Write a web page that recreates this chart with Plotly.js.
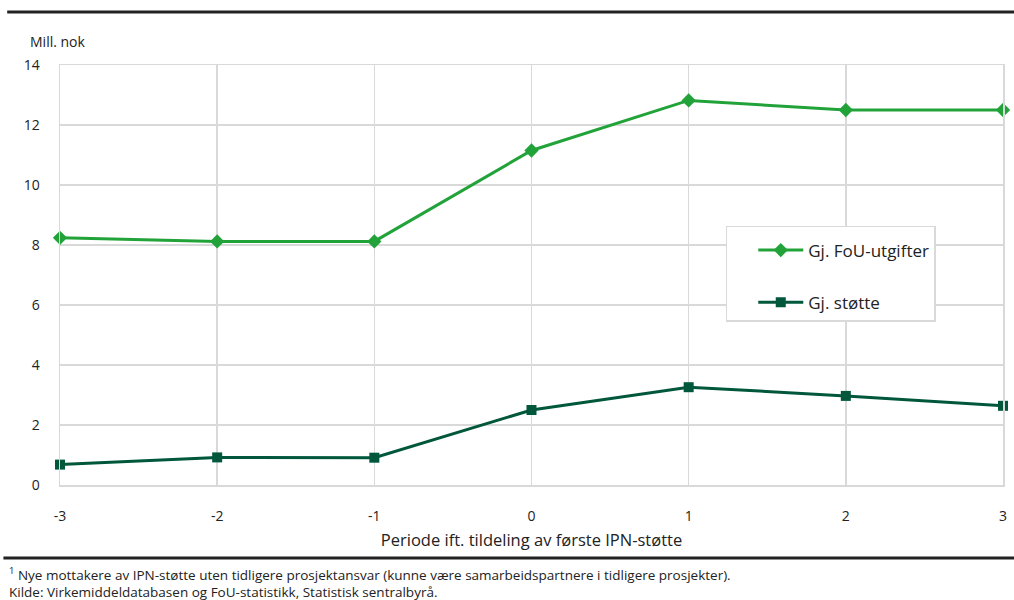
<!DOCTYPE html>
<html>
<head>
<meta charset="utf-8">
<script src="https://cdn.plot.ly/plotly-3.0.1.min.js"></script>
<style>html,body{margin:0;padding:0;background:#fff;}#chart{width:1014px;height:600px;}</style>
</head>
<body>
<div id="chart"></div>
<script>
const periods = [-3, -2, -1, 0, 1, 2, 3];
const fouUtgifter = [8.24, 8.12, 8.12, 11.15, 12.82, 12.5, 12.5];
const stotte = [0.68, 0.92, 0.91, 2.5, 3.26, 2.97, 2.64];
const seriesNames = ['Gj. FoU-utgifter', 'Gj. støtte'];
const yTicks = [0, 2, 4, 6, 8, 10, 12, 14];

const font = 'Open Sans, Noto Sans, sans-serif';

const traces = [
  {
    x: periods, y: fouUtgifter, name: seriesNames[0], type: 'scatter', mode: 'lines+markers',
    line: {color: '#22a33a', width: 3}, marker: {symbol: 'diamond', size: 11, color: '#22a33a'},
    legendgroup: 'a', cliponaxis: false
  },
  {
    x: periods, y: stotte, name: seriesNames[1], type: 'scatter', mode: 'lines+markers',
    line: {color: '#00573b', width: 3}, marker: {symbol: 'square', size: 10, color: '#00573b'},
    legendgroup: 'b', cliponaxis: false
  }
];

const layout = {
  width: 1014, height: 600,
  margin: {l: 60, r: 11, t: 65, b: 115},
  paper_bgcolor: '#fff', plot_bgcolor: '#fff',
  font: {family: font, size: 14, color: '#222'},
  showlegend: true,
  legend: {
    x: 0.706, y: 0.617, xanchor: 'left', yanchor: 'top',
    bordercolor: '#d9d9d9', borderwidth: 1.5, bgcolor: '#fff',
    font: {family: font, size: 17, color: '#222'},
    tracegroupgap: 27, traceorder: 'grouped',
    itemwidth: 45, indentation: 26, entrywidth: 210,
    title: {text: '&nbsp;', font: {size: 4}}
  },
  xaxis: {
    range: [-3, 3], tickvals: periods, ticktext: periods.map(String),
    showgrid: true, gridcolor: '#d9d9d9', gridwidth: 1.5,
    zeroline: false, showline: true, mirror: true, linecolor: '#d9d9d9', linewidth: 1.5,
    ticks: '', ticklabelstandoff: 18,
    tickfont: {family: font, size: 14, color: '#222'},
    title: {text: 'Periode ift. tildeling av første IPN-støtte', standoff: 10, font: {family: font, size: 16.5, color: '#222'}}
  },
  yaxis: {
    range: [0, 14], tickvals: yTicks,
    showgrid: true, gridcolor: '#d9d9d9', gridwidth: 1.5,
    zeroline: false, showline: true, mirror: true, linecolor: '#d9d9d9', linewidth: 1.5,
    ticks: '', ticklabelstandoff: 16,
    tickfont: {family: font, size: 14, color: '#222'}
  },
  shapes: [
    {type: 'line', xref: 'paper', yref: 'paper', x0: -0.056, x1: 1.012, y0: 1.126, y1: 1.126, line: {color: '#222', width: 3}},
    {type: 'line', xref: 'paper', yref: 'paper', x0: -0.06, x1: 1.012, y0: -0.174, y1: -0.174, line: {color: '#222', width: 3}}
  ],
  annotations: [
    {xref: 'paper', yref: 'paper', x: -0.034, y: 1.055, xanchor: 'left', yanchor: 'middle', showarrow: false,
     text: 'Mill. nok', font: {family: font, size: 14, color: '#222'}},
    {xref: 'paper', yref: 'paper', x: -0.056, y: -0.183, xanchor: 'left', yanchor: 'top', align: 'left', showarrow: false,
     text: '<sup>1</sup> Nye mottakere av IPN-støtte uten tidligere prosjektansvar (kunne være samarbeidspartnere i tidligere prosjekter).<br>Kilde: Virkemiddeldatabasen og FoU-statistikk, Statistisk sentralbyrå.',
     font: {family: font, size: 13.5, color: '#222'}}
  ]
};

Plotly.newPlot('chart', traces, layout, {displayModeBar: false, staticPlot: true});
</script>
</body>
</html>
